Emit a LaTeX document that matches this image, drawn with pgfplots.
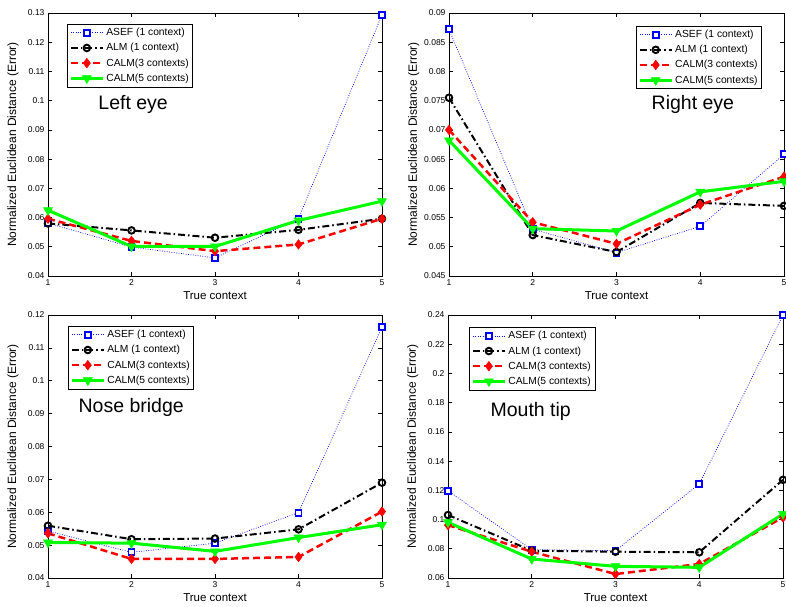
\documentclass[border=0pt]{standalone}
\usepackage{pgfplots}
\pgfplotsset{compat=1.18}
\usepackage{fontspec}
\setmainfont{Liberation Sans}

\pgfplotsset{
  panel/.style={
    scale only axis, width=334pt, height=263pt,
    xmin=1, xmax=5, xtick={1,2,3,4,5},
    tick align=inside, major tick length=4pt,
    axis line style={line width=0.8pt},
    tick style={line width=0.6pt, black},
    tick label style={font=\fontsize{8.5}{9}\selectfont},
    /pgf/number format/assume math mode=true,
    yticklabel style={/pgf/number format/fixed, /pgf/number format/precision=3},
    scaled y ticks=false,
    xlabel={True context},
    ylabel={Normalized Euclidean Distance (Error)},
    xlabel style={font=\fontsize{11.5}{12}\selectfont, at={(axis description cs:0.5,-0.076)}, anchor=center},
    ylabel style={font=\fontsize{12}{13}\selectfont, at={(axis description cs:-0.105,0.5)}, anchor=center},
    legend cell align=left,
    legend style={font=\fontsize{10.3}{11}\selectfont, draw=black, line width=0.6pt, inner sep=2pt, row sep=2.2pt},
    legend image code/.code={\draw[mark repeat=2,mark phase=2,#1] plot coordinates {(0pt,0pt) (16pt,0pt) (32pt,0pt)};},
  },
  asef/.style={color=blue, line width=0.7pt, dash pattern=on 0.8pt off 1.6pt, mark=square*, mark size=3pt, mark options={solid, line width=1.9pt, fill=white, draw=blue}},
  alm/.style={color=black, line width=2pt, dash pattern=on 7pt off 3pt on 1.5pt off 3pt, mark=o, mark size=3.3pt, mark options={solid, line width=1.9pt, fill=white}},
  calm3/.style={color=red, line width=2.5pt, dash pattern=on 7pt off 4pt, mark=diamond*, mark size=4.8pt, mark options={solid, line width=0.5pt, fill=red}},
  calm5/.style={color=green, line width=3pt, solid, mark=triangle*, mark size=5.2pt, mark options={solid, rotate=180, line width=0.5pt, fill=green}},
}

\begin{document}
\begin{tikzpicture}
\path[use as bounding box] (0pt,0pt) rectangle (786pt,606pt);

% Left eye
\begin{axis}[panel, at={(48pt,330pt)}, anchor=south west, width=334pt,
  ymin=0.04, ymax=0.13, ytick={0.04,0.05,...,0.131},
  legend style={at={(0.057,0.958)}, anchor=north west}]
\addplot[asef] coordinates {(1,0.0581) (2,0.0499) (3,0.0462) (4,0.0596) (5,0.1294)};
\addplot[alm] coordinates {(1,0.0580) (2,0.0556) (3,0.0531) (4,0.0558) (5,0.0596)};
\addplot[calm3] coordinates {(1,0.0596) (2,0.0520) (3,0.0485) (4,0.0508) (5,0.0596)};
\addplot[calm5] coordinates {(1,0.0625) (2,0.0501) (3,0.0501) (4,0.0590) (5,0.0656)};
\legend{ASEF (1 context), ALM (1 context), CALM(3 contexts), CALM(5 contexts)}
\node[font=\fontsize{19.5}{21}\selectfont] at (rel axis cs:0.255,0.652) {Left eye};
\end{axis}

% Right eye
\begin{axis}[panel, at={(449pt,330pt)}, anchor=south west, width=335pt,
  ymin=0.045, ymax=0.09, ytick={0.045,0.05,...,0.0901},
  legend style={at={(0.558,0.951)}, anchor=north west}]
\addplot[asef] coordinates {(1,0.0872) (2,0.0530) (3,0.0490) (4,0.0535) (5,0.0658)};
\addplot[alm] coordinates {(1,0.0755) (2,0.0520) (3,0.0491) (4,0.0575) (5,0.0570)};
\addplot[calm3] coordinates {(1,0.0700) (2,0.0542) (3,0.0505) (4,0.0572) (5,0.0620)};
\addplot[calm5] coordinates {(1,0.0682) (2,0.0531) (3,0.0527) (4,0.0594) (5,0.0612)};
\legend{ASEF (1 context), ALM (1 context), CALM(3 contexts), CALM(5 contexts)}
\node[font=\fontsize{19.5}{21}\selectfont] at (rel axis cs:0.728,0.652) {Right eye};
\end{axis}

% Nose bridge
\begin{axis}[panel, at={(48pt,28pt)}, anchor=south west, width=334pt,
  ymin=0.04, ymax=0.12, ytick={0.04,0.05,...,0.121},
  legend style={at={(0.06,0.958)}, anchor=north west}]
\addplot[asef] coordinates {(1,0.0543) (2,0.0478) (3,0.0506) (4,0.0599) (5,0.1163)};
\addplot[alm] coordinates {(1,0.0559) (2,0.0518) (3,0.0520) (4,0.0548) (5,0.0690)};
\addplot[calm3] coordinates {(1,0.0536) (2,0.0458) (3,0.0458) (4,0.0464) (5,0.0602)};
\addplot[calm5] coordinates {(1,0.0508) (2,0.0506) (3,0.0481) (4,0.0523) (5,0.0562)};
\legend{ASEF (1 context), ALM (1 context), CALM(3 contexts), CALM(5 contexts)}
\node[font=\fontsize{19.5}{21}\selectfont] at (rel axis cs:0.249,0.65) {Nose bridge};
\end{axis}

% Mouth tip
\begin{axis}[panel, at={(448pt,28pt)}, anchor=south west, width=335pt,
  ymin=0.06, ymax=0.24, ytick={0.06,0.08,...,0.241},
  legend style={at={(0.063,0.954)}, anchor=north west}]
\addplot[asef] coordinates {(1,0.1197) (2,0.0794) (3,0.0787) (4,0.1243) (5,0.2400)};
\addplot[alm] coordinates {(1,0.1031) (2,0.0787) (3,0.0780) (4,0.0776) (5,0.1272)};
\addplot[calm3] coordinates {(1,0.0962) (2,0.0780) (3,0.0627) (4,0.0696) (5,0.1015)};
\addplot[calm5] coordinates {(1,0.0981) (2,0.0730) (3,0.0680) (4,0.0673) (5,0.1038)};
\legend{ASEF (1 context), ALM (1 context), CALM(3 contexts), CALM(5 contexts)}
\node[font=\fontsize{19.5}{21}\selectfont] at (rel axis cs:0.247,0.635) {Mouth tip};
\end{axis}
\end{tikzpicture}
\end{document}
